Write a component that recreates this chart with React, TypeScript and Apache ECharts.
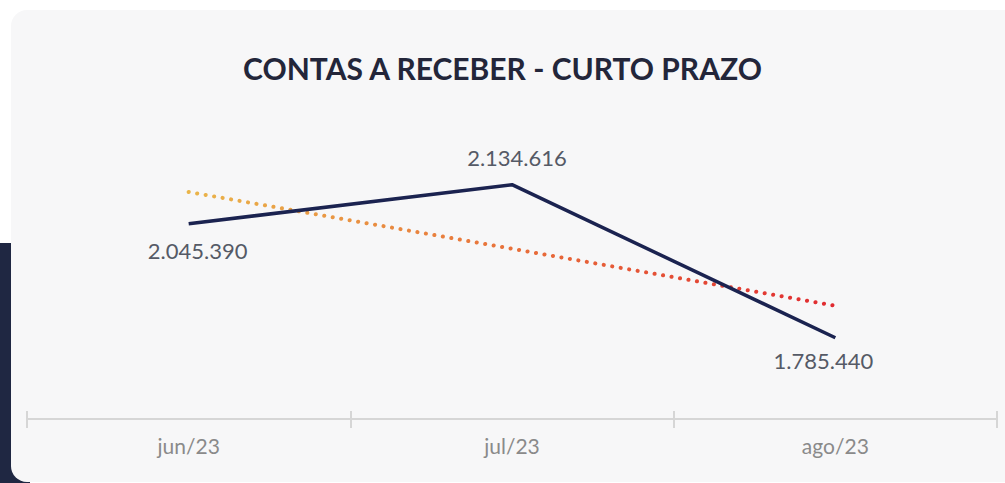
import React, { useEffect, useRef } from "react";
import * as echarts from "echarts";

const title = "CONTAS A RECEBER - CURTO PRAZO";
const categories = ["jun/23", "jul/23", "ago/23"];
const values = [2045390, 2134616, 1785440];
const trendValues = [2118000, 1988500, 1858500];
const labelText = ["2.045.390", "2.134.616", "1.785.440"];

export default function App() {
  const ref = useRef<HTMLDivElement>(null);
  useEffect(() => {
    const chart = echarts.init(ref.current!, null, { renderer: "svg" });
    const font = "Lato, 'DejaVu Sans', sans-serif";
    chart.setOption({
      animation: false,
      backgroundColor: "#ffffff",
      graphic: [
        { type: "rect", z: -10, shape: { x: 0, y: 243, width: 30, height: 260 }, style: { fill: "#1f2742" } },
        { type: "rect", z: -9, shape: { x: 11, y: 10, width: 1010, height: 472, r: 16 }, style: { fill: "#f7f7f8" } },
      ],
      title: {
        text: title,
        left: "center",
        top: 48,
        textStyle: { fontFamily: font, fontWeight: "bold", fontSize: 30, color: "#23263a" },
      },
      grid: { left: 27, right: 8, top: 156, bottom: 64 },
      xAxis: [
        {
          type: "category",
          data: categories,
          boundaryGap: true,
          axisLine: { lineStyle: { color: "#d6d6d6", width: 2 } },
          axisTick: { show: true, length: 9, lineStyle: { color: "#d6d6d6", width: 2 } },
          axisLabel: { margin: 16, fontFamily: font, fontSize: 21, color: "#8a8a8a" },
        },
        {
          type: "category",
          data: categories,
          position: "bottom",
          boundaryGap: true,
          axisLine: { show: false },
          axisTick: { show: true, inside: true, length: 8, lineStyle: { color: "#d6d6d6", width: 2 } },
          axisLabel: { show: false },
        },
      ],
      yAxis: {
        type: "value",
        min: 1600000,
        max: 2200000,
        show: false,
        splitLine: { show: false },
      },
      series: [
        {
          type: "line",
          data: trendValues,
          showSymbol: false,
          symbol: "none",
          z: 2,
          lineStyle: {
            width: 4,
            type: [0.1, 8.5],
            cap: "round",
            color: new echarts.graphic.LinearGradient(0, 0, 1, 0, [
              { offset: 0, color: "#eab54a" },
              { offset: 0.5, color: "#e8703a" },
              { offset: 1, color: "#e02a30" },
            ]),
          },
        },
        {
          type: "line",
          data: values.map((v, i) => {
            const pos = [
              { position: "bottom", offset: [9, 11] },
              { position: "top", offset: [5, -11] },
              { position: "bottom", offset: [-12, 7] },
            ][i];
            return {
              value: v,
              label: { show: true, position: pos.position, offset: pos.offset, formatter: () => labelText[i] },
            };
          }),
          showSymbol: true,
          symbol: "circle",
          symbolSize: 0,
          z: 3,
          lineStyle: { width: 3.5, color: "#1b2350" },
          itemStyle: { color: "#1b2350" },
          label: { show: true, fontFamily: font, fontSize: 22, color: "#555a66" },
        },
      ],
    });
    return () => chart.dispose();
  }, []);
  return <div ref={ref} style={{ position: "absolute", left: 0, top: 0, width: 1005, height: 483 }} />;
}
